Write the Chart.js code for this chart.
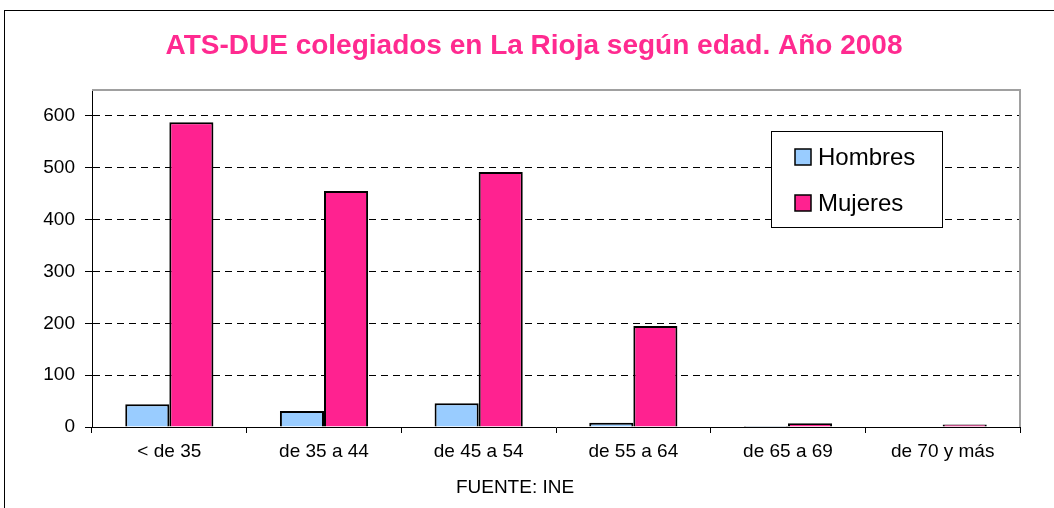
<!DOCTYPE html>
<html>
<head>
<meta charset="utf-8">
<script src="https://cdn.jsdelivr.net/npm/chart.js@4/dist/chart.umd.min.js"></script>
<style>
html,body{margin:0;padding:0;background:#fff;}
#wrap{width:1054px;height:508px;}
</style>
</head>
<body>
<div id="wrap"><canvas id="c" width="1054" height="508"></canvas></div>
<script>
const categories = ["< de 35", "de 35 a 44", "de 45 a 54", "de 55 a 64", "de 65 a 69", "de 70 y más"];
const hombres = [44, 31, 46, 8, 2, 1];
const mujeres = [588, 455, 492, 195, 7, 5];
const seriesNames = ["Hombres", "Mujeres"];
const yTicks = [0, 100, 200, 300, 400, 500, 600];
const titleText = "ATS-DUE colegiados en La Rioja según edad. Año 2008";
const sourceText = "FUENTE: INE";

const FONT = "'Liberation Sans', Arial, sans-serif";
const colors = ["#99CCFF", "#FF2290"];

const framePlugin = {
  id: 'frame',
  beforeDraw(chart) {
    const ctx = chart.ctx;
    ctx.save();
    ctx.fillStyle = '#fff';
    ctx.fillRect(0, 0, chart.width, chart.height);
    ctx.strokeStyle = '#000';
    ctx.lineWidth = 1;
    ctx.strokeRect(4.5, 10.5, chart.width + 50, chart.height + 50);
    ctx.restore();
  },
  beforeDatasetsDraw(chart) {
    const {ctx, chartArea: a} = chart;
    ctx.save();
    ctx.strokeStyle = '#A0A0A0';
    ctx.lineWidth = 2;
    ctx.beginPath();
    ctx.moveTo(a.left, a.top);
    ctx.lineTo(a.right, a.top);
    ctx.lineTo(a.right, a.bottom);
    ctx.stroke();
    ctx.restore();
  },
  afterDraw(chart) {
    const {ctx, chartArea: a} = chart;
    ctx.save();
    ctx.textAlign = 'center';
    ctx.textBaseline = 'middle';
    ctx.font = "bold 28px " + FONT;
    ctx.fillStyle = '#FF2A90';
    ctx.fillText(titleText, (a.left + a.right) / 2 - 22, a.top - 44);
    ctx.font = "19px " + FONT;
    ctx.fillStyle = '#000';
    ctx.fillText(sourceText, (a.left + a.right) / 2 - 41, a.bottom + 61);
    ctx.restore();
  }
};

const legendPlugin = {
  id: 'boxLegend',
  afterDraw(chart) {
    const {ctx, chartArea: a} = chart;
    const x = a.right - 249, y = a.top + 41, w = 171, h = 96;
    ctx.save();
    ctx.fillStyle = '#fff';
    ctx.fillRect(x, y, w, h);
    ctx.strokeStyle = '#000';
    ctx.lineWidth = 1;
    ctx.strokeRect(x + 0.5, y + 0.5, w, h);
    ctx.font = "24px " + FONT;
    ctx.textBaseline = 'middle';
    ctx.textAlign = 'left';
    chart.data.datasets.forEach((ds, i) => {
      const cy = y + 26 + i * 46;
      ctx.fillStyle = ds.backgroundColor;
      ctx.fillRect(x + 24, cy - 8, 16, 16);
      ctx.strokeStyle = '#000';
      ctx.lineWidth = 1.5;
      ctx.strokeRect(x + 24, cy - 8, 16, 16);
      ctx.fillStyle = '#000';
      ctx.fillText(ds.label, x + 47, cy + 1);
    });
    ctx.restore();
  }
};

new Chart(document.getElementById('c'), {
  type: 'bar',
  data: {
    labels: categories,
    datasets: [
      { label: seriesNames[0], data: hombres, backgroundColor: colors[0], borderColor: '#000', borderWidth: 2 },
      { label: seriesNames[1], data: mujeres, backgroundColor: colors[1], borderColor: '#000', borderWidth: 2 }
    ]
  },
  options: {
    responsive: false,
    animation: false,
    devicePixelRatio: 1,
    layout: { padding: { left: 0, right: 34, top: 90, bottom: 0 } },
    datasets: { bar: { categoryPercentage: 0.57, barPercentage: 1.0 } },
    plugins: {
      legend: { display: false },
      tooltip: { enabled: false },
      title: { display: false }
    },
    scales: {
      x: {
        grid: { display: true, drawOnChartArea: false, offset: true, color: '#000', tickLength: 6 },
        border: { color: '#000', width: 1 },
        ticks: { color: '#000', font: { family: FONT, size: 19 }, padding: 7, maxRotation: 0 },
        afterFit(scale) { scale.height = 81; }
      },
      y: {
        min: 0, max: 650,
        afterBuildTicks(scale) { scale.ticks = yTicks.map(v => ({ value: v })); },
        grid: { color: '#000', tickLength: 7, lineWidth: 1 },
        border: { color: '#000', width: 1, dash: [7, 5] },
        ticks: { color: '#000', font: { family: FONT, size: 19 }, padding: 10 },
        afterFit(scale) { scale.width = 92; }
      }
    }
  },
  plugins: [framePlugin, legendPlugin]
});
</script>
</body>
</html>
